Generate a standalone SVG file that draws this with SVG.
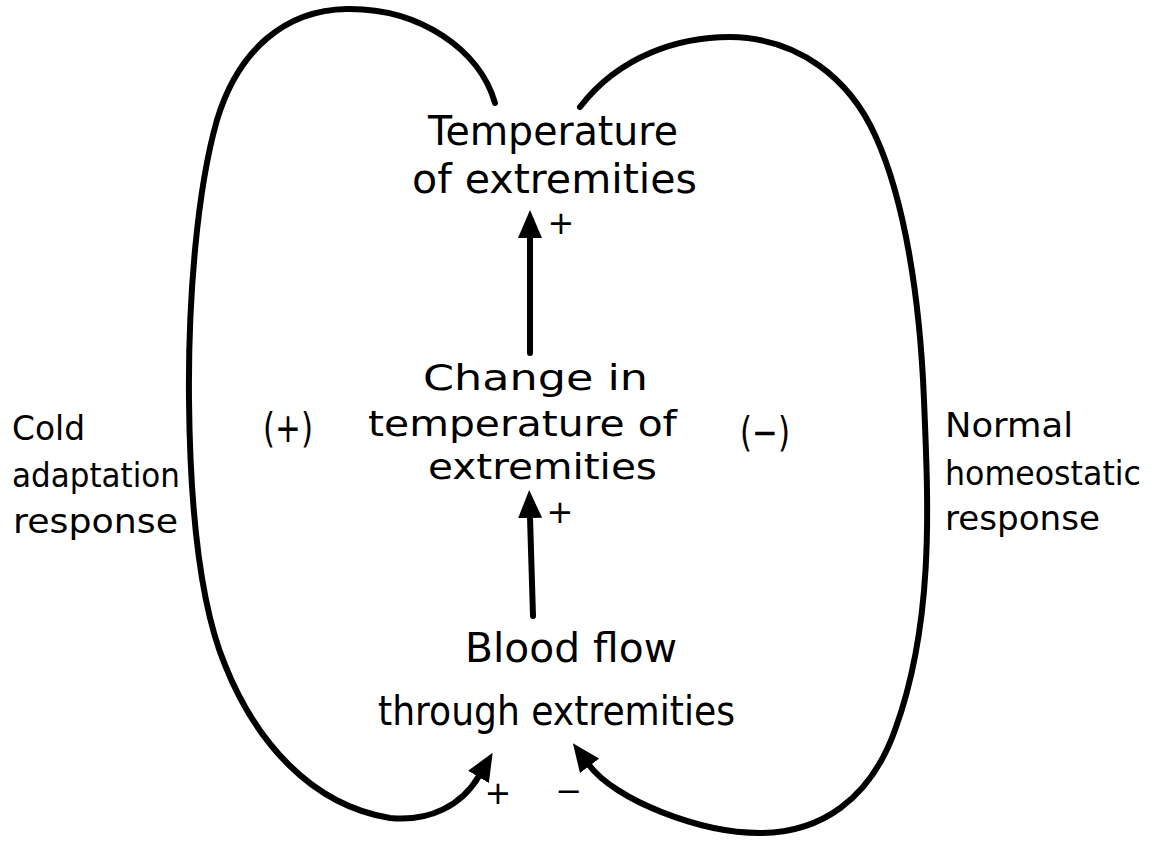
<svg xmlns="http://www.w3.org/2000/svg" width="1158" height="843" viewBox="0 0 1158 843">
  <style>
    .t { font-family: "DejaVu Sans", "Liberation Sans", sans-serif; font-size: 40px; fill: #000; }
    .m { font-family: "DejaVu Sans", "Liberation Sans", sans-serif; font-size: 36px; fill: #000; }
    .s { font-family: "DejaVu Sans", "Liberation Sans", sans-serif; font-size: 34px; fill: #000; }
    .sign { font-family: "DejaVu Sans", "Liberation Sans", sans-serif; font-size: 32px; fill: #000; text-anchor: middle; }
    .par { font-family: "DejaVu Sans", "Liberation Sans", sans-serif; font-size: 40px; fill: #000; text-anchor: middle; }
    .c { fill: none; stroke: #000; stroke-width: 6; stroke-linecap: round; stroke-linejoin: round; }
  </style>
  <defs>
    <marker id="ah" viewBox="0 0 28 24" refX="1" refY="12" markerWidth="28" markerHeight="24" markerUnits="userSpaceOnUse" orient="auto">
      <path d="M0,0 L28,12 L0,24 z" fill="#000"/>
    </marker>
  </defs>
  <rect width="1158" height="843" fill="#fff"/>

  <g id="connectors">
    <path class="c" d="M530,353 L530,237" marker-end="url(#ah)"/>
    <path class="c" d="M533,616 L530,517" marker-end="url(#ah)"/>
    <path class="c" d="M495,103 C480,50 420,8 347,9 C285,10 238,50 217,120 C197,190 188,300 189,400 C190,500 198,600 225,665 C255,740 310,805 390,818 C430,822 462,805 479,776" marker-end="url(#ah)"/>
    <path class="c" d="M580,107 C620,55 680,37 730,37 C800,38 850,80 875,135 C905,200 920,300 924,400 C928,500 935,620 895,730 C870,800 820,833 760,833 C700,833 615,800 589,765" marker-end="url(#ah)"/>
  </g>

  <g id="node-temperature">
    <text class="t" x="428" y="145" textLength="250" lengthAdjust="spacingAndGlyphs">Temperature</text>
    <text class="t" x="412" y="193" textLength="285" lengthAdjust="spacingAndGlyphs">of extremities</text>
  </g>
  <g id="node-change">
    <text class="m" x="423" y="390" textLength="225" lengthAdjust="spacingAndGlyphs">Change in</text>
    <text class="m" x="368" y="436" textLength="309" lengthAdjust="spacingAndGlyphs">temperature of</text>
    <text class="m" x="428" y="479" textLength="229" lengthAdjust="spacingAndGlyphs">extremities</text>
  </g>
  <g id="node-blood">
    <text class="t" x="465" y="662" textLength="212" lengthAdjust="spacingAndGlyphs">Blood flow</text>
    <text class="t" x="378" y="725" textLength="357" lengthAdjust="spacingAndGlyphs">through extremities</text>
  </g>
  <g id="label-cold">
    <text class="s" x="12" y="440" textLength="73" lengthAdjust="spacingAndGlyphs">Cold</text>
    <text class="s" x="12" y="487" textLength="168" lengthAdjust="spacingAndGlyphs">adaptation</text>
    <text class="s" x="13" y="533" textLength="165" lengthAdjust="spacingAndGlyphs">response</text>
  </g>
  <g id="label-normal">
    <text class="s" x="945" y="437" textLength="128" lengthAdjust="spacingAndGlyphs">Normal</text>
    <text class="s" x="945" y="485" textLength="196" lengthAdjust="spacingAndGlyphs">homeostatic</text>
    <text class="s" x="945" y="530" textLength="155" lengthAdjust="spacingAndGlyphs">response</text>
  </g>
  <g id="signs">
    <text class="sign" x="561" y="234">+</text>
    <text class="sign" x="560" y="523">+</text>
    <text class="sign" x="498" y="804">+</text>
    <text class="sign" x="569" y="802">−</text>
    <text class="par" x="288" y="442" textLength="50" lengthAdjust="spacingAndGlyphs">(+)</text>
    <text class="par" x="765" y="446" textLength="50" lengthAdjust="spacingAndGlyphs">(−)</text>
  </g>
</svg>
